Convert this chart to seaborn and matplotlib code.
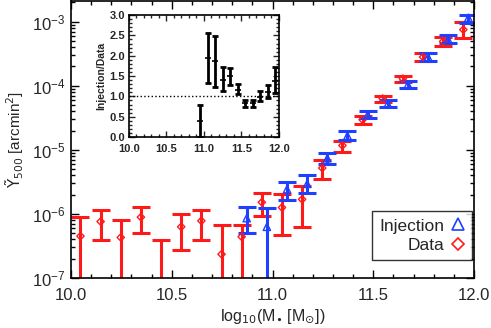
import numpy as np
import seaborn as sns
import matplotlib.pyplot as plt
from matplotlib.ticker import MultipleLocator, LogLocator, NullFormatter
from matplotlib.lines import Line2D

# Data (red diamonds): stellar-mass bins, Y500 and error bounds
data_x = [10.047, 10.147, 10.247, 10.347, 10.447, 10.547, 10.647, 10.747, 10.847,
          10.947, 11.047, 11.147, 11.247, 11.347, 11.447, 11.547, 11.647, 11.747,
          11.847, 11.947]
data_y = [4.5e-7, 7.6e-7, 4.3e-7, 8.9e-7, 5e-8, 6.3e-7, 7.8e-7, 2.35e-7, 4.4e-7,
          1.52e-6, 1.26e-6, 1.69e-6, 5.2e-6, 1.17e-5, 2.95e-5, 6.3e-5, 1.29e-4,
          2.8e-4, 4.9e-4, 7.5e-4]
data_lo = [1e-9, 3.9e-7, 1e-9, 5.1e-7, 1e-9, 2.7e-7, 3.9e-7, 1e-9, 1e-9,
           9.3e-7, 4.7e-7, 6.2e-7, 3.5e-6, 9.1e-6, 2.55e-5, 5.6e-5, 1.15e-4,
           2.45e-4, 4.1e-4, 5.6e-4]
data_hi = [9.1e-7, 1.15e-6, 8.0e-7, 1.26e-6, 3.9e-7, 9.9e-7, 1.15e-6, 6.6e-7, 6.7e-7,
           2.1e-6, 2.05e-6, 2.7e-6, 6.9e-6, 1.38e-5, 3.4e-5, 7.0e-5, 1.44e-4,
           3.25e-4, 5.7e-4, 9.8e-4]

# Injection (blue triangles)
inj_x = [10.872, 10.972, 11.072, 11.172, 11.272, 11.372, 11.472, 11.572, 11.672,
         11.772, 11.872, 11.972]
inj_y = [8.6e-7, 6.3e-7, 2.43e-6, 2.95e-6, 7.4e-6, 1.66e-5, 3.5e-5, 5.2e-5, 1.04e-4,
         2.8e-4, 5.25e-4, 1.15e-3]
inj_lo = [5.1e-7, 1e-9, 1.65e-6, 2.1e-6, 6.0e-6, 1.44e-5, 3.1e-5, 4.6e-5, 9.2e-5,
          2.45e-4, 4.7e-4, 9.6e-4]
inj_hi = [1.26e-6, 1.23e-6, 3.1e-6, 4.07e-6, 8.9e-6, 1.94e-5, 4.0e-5, 5.9e-5, 1.2e-4,
          3.25e-4, 6.1e-4, 1.29e-3]

# Inset: ratio Injection/Data
ratio_x = [10.95, 11.05, 11.15, 11.25, 11.35, 11.45, 11.55, 11.65, 11.75, 11.85, 11.95]
ratio_y = [0.39, 1.94, 1.86, 1.41, 1.51, 1.17, 0.84, 0.84, 0.99, 1.11, 1.38]
ratio_lo = [0.0, 1.34, 1.23, 1.13, 1.28, 1.06, 0.73, 0.74, 0.88, 0.95, 1.09]
ratio_hi = [0.80, 2.57, 2.49, 1.72, 1.69, 1.31, 0.92, 0.90, 1.13, 1.28, 1.72]

sns.set_style("ticks")
plt.rcParams['font.family'] = ['Liberation Sans', 'DejaVu Sans']
plt.rcParams['mathtext.fontset'] = 'dejavusans'

fig = plt.figure(figsize=(4.91, 3.28), dpi=100)
ax = fig.add_axes([0.1446, 0.1524, 0.8208, 0.8446])

red = '#ff1a1a'
blue = '#2040ff'


def bars(a, x, y, lo, hi, color, lw, cap):
    y = np.array(y)
    yerr = [y - np.array(lo), np.array(hi) - y]
    a.errorbar(x, y, yerr=yerr, fmt='none', ecolor=color, elinewidth=lw,
               capsize=cap, capthick=lw, zorder=2)


bars(ax, data_x, data_y, data_lo, data_hi, red, 2.2, 6.5)
bars(ax, inj_x, inj_y, inj_lo, inj_hi, blue, 2.2, 6.5)
sns.scatterplot(x=data_x, y=data_y, ax=ax, marker='D', s=14, facecolor='none',
                edgecolor=red, linewidth=1.0, zorder=3)
sns.scatterplot(x=inj_x, y=inj_y, ax=ax, marker='^', s=28, facecolor='none',
                edgecolor=blue, linewidth=1.0, zorder=3)

ax.set_yscale('log')
ax.set_xlim(10.0, 12.0)
ax.set_ylim(1e-7, 2.1e-3)
ax.xaxis.set_major_locator(MultipleLocator(0.5))
ax.xaxis.set_minor_locator(MultipleLocator(0.1))
ax.yaxis.set_major_locator(LogLocator(base=10, numticks=10))
ax.yaxis.set_minor_locator(LogLocator(base=10, subs=np.arange(2, 10), numticks=10))
ax.yaxis.set_minor_formatter(NullFormatter())
ax.tick_params(which='both', direction='in', top=True, right=True, labelsize=12,
               color='black')
ax.tick_params(axis='x', pad=7)
ax.tick_params(axis='y', pad=4)
ax.tick_params(which='major', length=6, width=1)
ax.tick_params(which='minor', length=3, width=1)
for s in ax.spines.values():
    s.set_linewidth(1.2)
    s.set_color('black')
ax.set_xlabel(r'log$_{10}$(M$_{\bullet}$ [M$_{\odot}$])', fontsize=11.5, labelpad=3)
ax.set_ylabel(r'$\tilde{\mathrm{Y}}_{500}$ [arcmin$^2$]', fontsize=11, labelpad=4)

handles = [Line2D([], [], ls='none', marker='^', mfc='none', mec=blue, ms=8, mew=1.2),
           Line2D([], [], ls='none', marker='D', mfc='none', mec=red, ms=6, mew=1.2)]
leg = ax.legend(handles, ['Injection', 'Data'], loc='lower right', markerfirst=False,
                fontsize=12.5, frameon=True, fancybox=False, edgecolor='black',
                handlelength=0.8, handletextpad=0.4, borderpad=0.4,
                labelspacing=0.25, borderaxespad=0,
                bbox_to_anchor=(0.995, 0.065))
leg.get_frame().set_linewidth(1.0)

# inset
ins = fig.add_axes([0.2627, 0.582, 0.3055, 0.372])
bars(ins, ratio_x, ratio_y, ratio_lo, ratio_hi, 'black', 2.0, 2.5)
sns.scatterplot(x=ratio_x, y=ratio_y, ax=ins, marker='_', s=25, color='black',
                linewidth=1.2, zorder=3)
ins.axhline(1.0, color='black', ls=':', lw=1.0)
ins.set_xlim(10.0, 12.0)
ins.set_ylim(0.0, 3.0)
ins.xaxis.set_major_locator(MultipleLocator(0.5))
ins.xaxis.set_minor_locator(MultipleLocator(0.1))
ins.yaxis.set_major_locator(MultipleLocator(0.5))
ins.yaxis.set_minor_locator(MultipleLocator(0.1))
ins.set_xticklabels([f'{v:.1f}' for v in ins.get_xticks()], fontweight='bold')
ins.set_yticklabels([f'{v:.1f}' for v in ins.get_yticks()], fontweight='bold')
ins.tick_params(which='both', direction='in', top=True, right=True, labelsize=8)
ins.tick_params(axis='x', pad=5)
ins.tick_params(axis='y', pad=3)
ins.tick_params(which='major', length=4, width=1)
ins.tick_params(which='minor', length=2, width=1)
for s in ins.spines.values():
    s.set_linewidth(1.2)
    s.set_color('black')
ins.set_ylabel('Injection/Data', fontsize=7.5, fontweight='bold', labelpad=2)

fig.savefig('out.png', dpi=100)
